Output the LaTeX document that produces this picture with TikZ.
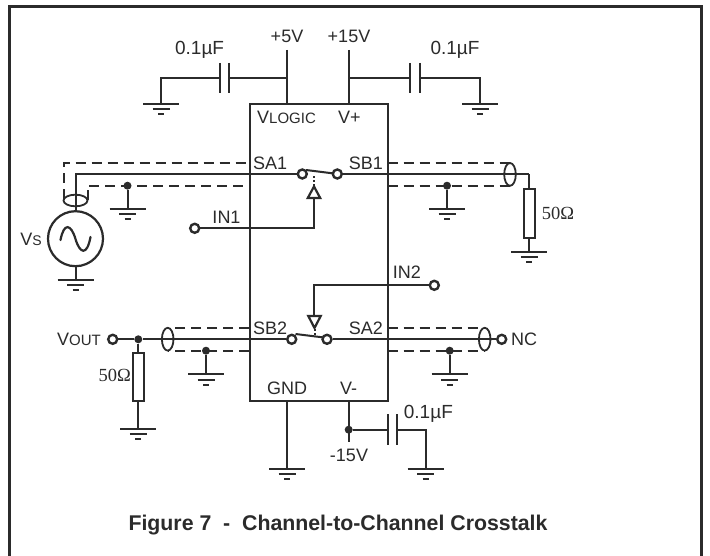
\documentclass[tikz,border=0pt]{standalone}
\usepackage{fontspec}
\setmainfont{Liberation Sans}
\newfontfamily\serifF{Liberation Serif}
\definecolor{ink}{HTML}{2B2B2B}
\newcommand{\fs}[1]{\fontsize{#1}{#1}\selectfont}
\newcommand{\ohm}{{\serifF\fs{18.5}50Ω}}
\newcommand{\uF}{0.1µF}
\tikzset{
  wire/.style={draw=ink,line width=2pt},
  shield/.style={draw=ink,line width=2pt,dash pattern=on 10pt off 6pt},
  term/.style={circle,draw=ink,line width=2.4pt,fill=white,minimum size=9pt,inner sep=0pt},
  dot/.style={circle,fill=ink,minimum size=8pt,inner sep=0pt},
  lab/.style={text=ink,font=\fs{18},inner sep=0pt},
  res/.style={rectangle,draw=ink,line width=2pt,fill=white,minimum width=11pt,inner sep=0pt},
  trig/.style={draw=ink,line width=2.2pt,fill=white,line join=miter}
}
\newcommand{\gnd}[1]{%
  \path (#1) coordinate (g);
  \draw[wire] ([xshift=-18pt]g) -- ([xshift=18pt]g);
  \draw[wire] ([xshift=-8.5pt,yshift=-5.5pt]g) -- ([xshift=8.5pt,yshift=-5.5pt]g);
  \draw[wire] ([xshift=-3pt,yshift=-10.5pt]g) -- ([xshift=3pt,yshift=-10.5pt]g);
}
\begin{document}
\begin{tikzpicture}[x=1pt,y=-1pt]
\useasboundingbox (0,0) rectangle (710,556);
\fill[white] (0,0) rectangle (710,556);
% frame
\draw[draw=ink,line width=3pt,line join=miter] (9,560) -- (9,7) -- (701.5,7) -- (701.5,560);
% chip
\node[draw=ink,line width=2pt,minimum width=138pt,minimum height=297pt,inner sep=0pt] (chip) at (318.5,252.5) {};
% coordinates
\coordinate (vlogicT) at (287,50); \coordinate (vlogicB) at (287,104);
\coordinate (vpT) at (348.7,50); \coordinate (vpB) at (348.7,104);
% +5V
\draw[wire] (vlogicT) -- (vlogicB);
\coordinate (g1) at (161,104);
\coordinate (c1a) at (219.5,78.5); \coordinate (c1b) at (228.5,78.5);
\draw[wire] (g1) |- (c1a);
\draw[wire] (c1b) -- (287,78.5);
\draw[wire] (219.5,63) -- (219.5,93);
\draw[wire] (228.5,63) -- (228.5,93);
\gnd{g1}
% +15V
\draw[wire] (vpT) -- (vpB);
\coordinate (g2) at (480,104);
\coordinate (c2a) at (410,78.5); \coordinate (c2b) at (420,78.5);
\draw[wire] (348.7,78.5) -- (c2a);
\draw[wire] (c2b) -| (g2);
\draw[wire] (410,63) -- (410,93);
\draw[wire] (420,63) -- (420,93);
\gnd{g2}
% upper signal
\node[circle,draw=ink,line width=2.2pt,minimum size=55pt,inner sep=0pt] (vs) at (75.5,238.7) {};
\coordinate (g3) at (75.5,280);
\draw[wire] (vs.south) -- (g3);
\gnd{g3}
\draw[wire,line width=2.2pt,line cap=round] (60.5,240) .. controls (64,222) and (71,224) .. (75.5,239) .. controls (80,254) and (87,256) .. (90.5,237);
\node[term] (sw1l) at (302.3,174) {};
\node[term] (sw1r) at (337.3,174) {};
\draw[wire] (vs.north) -- (75.5,174) -- (sw1l);
\draw[wire] (sw1r) -- (529.3,174) coordinate (r1t);
\draw[wire] (306,170) -- (334,173.5);
\draw[shield] (63.5,199) -- (63.5,163) -- (249,163);
\draw[shield] (87.5,200) -- (87.5,185.7) -- (249,185.7);
\draw[draw=ink,line width=1.8pt] (75.5,200.5) ellipse (12 and 5.8);
\node[dot] (j1) at (127.5,185.7) {};
\coordinate (g4) at (127.5,208.7);
\draw[wire] (j1) -- (g4);
\gnd{g4}
% IN1
\node[term] (in1) at (194.7,228.3) {};
\coordinate (tr1) at (314,198);
\draw[wire] (in1) -- (314,228.3) -- (tr1);
\draw[trig] (307.8,198) -- (320.2,198) -- (314,186.5) -- cycle;
\draw[draw=ink,line width=2pt,dash pattern=on 2pt off 2pt] (314,186) -- (314,175);
% right of upper
\node[res,minimum height=48.5pt] (r1) at (529.8,213.5) {};
\coordinate (g5) at (529.3,251.7);
\draw[wire] (r1t) -- (r1.north -| r1t);
\draw[wire] (r1.south -| r1t) -- (g5);
\gnd{g5}
\draw[shield] (387.5,163) -- (510,163);
\draw[shield] (387.5,185.7) -- (510,185.7);
\draw[draw=ink,line width=1.8pt] (510,174.4) ellipse (5.8 and 11.4);
\node[dot] (j2) at (447,185.7) {};
\coordinate (g6) at (447,208.7);
\draw[wire] (j2) -- (g6);
\gnd{g6}
% IN2
\node[term] (in2) at (434.3,285.3) {};
\draw[wire] (in2) -- (314.3,285.3) -- (314.3,316);
\draw[trig] (308.3,316) -- (320.7,316) -- (314.5,328) -- cycle;
\draw[draw=ink,line width=2pt,dash pattern=on 2pt off 2pt] (314.5,329) -- (314.5,337);
% lower signal
\node[term] (sw2l) at (291.7,339.3) {};
\node[term] (sw2r) at (327,339.3) {};
\node[term] (vout) at (112.7,339.3) {};
\node[term] (nc) at (501.7,339.3) {};
\node[dot] (j3) at (138.3,339.3) {};
\draw[wire] (vout) -- (j3) -- (sw2l);
\draw[wire] (sw2r) -- (nc);
\draw[wire] (295.5,334) -- (324,337.5);
\node[res,minimum height=48.5pt] (r2) at (138.3,376.8) {};
\coordinate (g7) at (138.3,428.7);
\draw[wire] (j3) -- (r2);
\draw[wire] (r2) -- (g7);
\gnd{g7}
\draw[shield] (249,327.7) -- (168,327.7);
\draw[shield] (249,350.7) -- (168,350.7);
\draw[draw=ink,line width=1.8pt] (167.7,339.2) ellipse (5.8 and 11.4);
\node[dot] (j4) at (206,350.7) {};
\coordinate (g8) at (206,374);
\draw[wire] (j4) -- (g8);
\gnd{g8}
\draw[shield] (387.5,327.7) -- (485,327.7);
\draw[shield] (387.5,350.7) -- (485,350.7);
\draw[draw=ink,line width=1.8pt] (484.7,339.2) ellipse (5.8 and 11.4);
\node[dot] (j5) at (449.7,350.7) {};
\coordinate (g9) at (449.7,374);
\draw[wire] (j5) -- (g9);
\gnd{g9}
% GND, V-
\coordinate (g10) at (287,468.7);
\draw[wire] (287,401) -- (g10);
\gnd{g10}
\draw[wire] (348.7,401) -- (348.7,441.7);
\node[dot] (j6) at (348.7,429.7) {};
\draw[wire] (j6) -- (388.3,429.7);
\draw[wire] (388.3,414.3) -- (388.3,445);
\draw[wire] (396.7,414.3) -- (396.7,445);
\coordinate (g11) at (425.7,468.7);
\draw[wire] (396.7,429.7) -| (g11);
\gnd{g11}
% labels
\node[lab] (t1) at (287,36) {+5V};
\node[lab] (t2) at (349,36) {+15V};
\node[lab,font=\fs{19}] (t3) at (199.6,50) {\uF};
\node[lab,font=\fs{19}] (t4) at (455,50) {\uF};
\node[lab,anchor=west] (t5) at (257,117.3) {V{\fs{15}LOGIC}};
\node[lab,anchor=west] (t6) at (338,117.3) {V+};
\node[lab,anchor=west] (t7) at (253,163) {SA1};
\node[lab,anchor=east] (t8) at (383,163) {SB1};
\node[lab] (t9) at (226.5,217) {IN1};
\node[lab,anchor=east] (t10) at (42,239) {V{\fs{14}S}};
\node[lab,anchor=west] (t11) at (392.7,272) {IN2};
\node[lab,anchor=west] (t12) at (253,328) {SB2};
\node[lab,anchor=east] (t13) at (383,328) {SA2};
\node[lab,anchor=west] (t14) at (57,339.5) {V{\fs{15}OUT}};
\node[lab,anchor=west] (t15) at (511,339.5) {NC};
\node[lab,anchor=west] (t16) at (541.7,213) {\ohm};
\node[lab,anchor=east] (t17) at (131,375) {\ohm};
\node[lab] (t18) at (287,388.7) {GND};
\node[lab,anchor=west] (t19) at (340,388.7) {V-};
\node[lab] (t20) at (349,455) {-15V};
\node[lab,anchor=west,font=\fs{19}] (t21) at (403.7,413.7) {\uF};
\node[text=ink,font=\bfseries\fs{21.3},inner sep=0pt] (title) at (338,525) {Figure 7\ \ -\ \ Channel-to-Channel Crosstalk};
\end{tikzpicture}
\end{document}
